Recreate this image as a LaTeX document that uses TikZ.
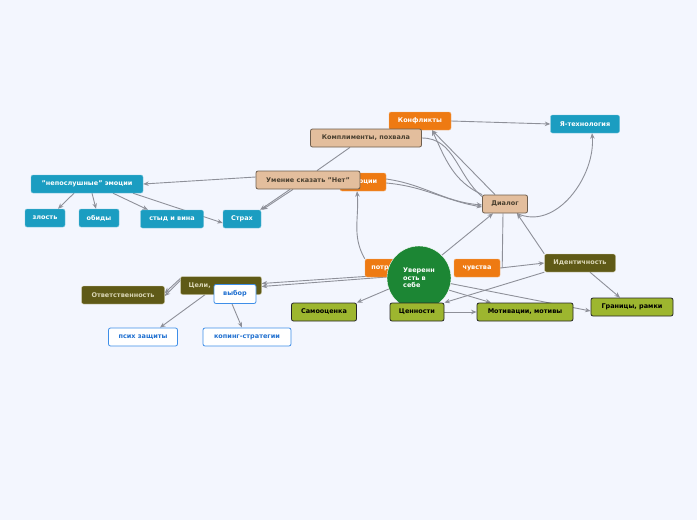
\documentclass[tikz,border=0pt]{standalone}
\usepackage{fontspec}
\setmainfont{DejaVu Sans}
\usetikzlibrary{arrows.meta}
\definecolor{bgc}{HTML}{F3F6FE}
\definecolor{tealc}{HTML}{1B9DC1}
\definecolor{orangec}{HTML}{EE7A12}
\definecolor{tanc}{HTML}{E3BE9D}
\definecolor{tanline}{HTML}{6E5E4E}
\definecolor{tantext}{HTML}{4A4030}
\definecolor{greenc}{HTML}{1C8634}
\definecolor{olivec}{HTML}{5F5A17}
\definecolor{olivetext}{HTML}{DAD6B6}
\definecolor{limec}{HTML}{9DB62F}
\definecolor{bluec}{HTML}{3E8EE8}
\definecolor{bluetext}{HTML}{1E6FD0}
\definecolor{linec}{HTML}{8E9099}
\pgfdeclarelayer{background}
\pgfdeclarelayer{edges}
\pgfsetlayers{background,edges,main}
\begin{document}
\begin{tikzpicture}[x=1pt, y=-1pt, font=\bfseries\fontsize{6.5}{7.6}\selectfont,
  box/.style = {rounded corners=2pt, minimum height=18pt, inner xsep=4pt, inner ysep=0pt},
  tealbox/.style = {box, fill=tealc, draw=tealc!60!white, text=white},
  orangebox/.style = {box, fill=orangec, draw=orangec!60!white, text=white},
  tanbox/.style = {box, fill=tanc, draw=tanline, thick, text=tantext},
  olivebox/.style = {box, fill=olivec, draw=olivetext, text=olivetext},
  limebox/.style = {box, fill=limec, draw=black!85, thick, text=black},
  whitebox/.style = {box, fill=white, draw=bluec, thick, text=bluetext},
  link/.style = {draw=linec, line width=0.9pt, -{Stealth[length=5.5pt,width=4.5pt]}},
  plain/.style = {draw=linec, line width=0.9pt}]
\useasboundingbox (0,0) rectangle (697,520);
\begin{pgfonlayer}{background}
  \fill[bgc] (0,0) rectangle (697,520);
\end{pgfonlayer}

\node[orangebox, minimum width=62pt] (konf) at (420,121) {Конфликты};
\node[tealbox, minimum width=69pt] (yatech) at (585,124) {Я-технология};
\node[tanbox, minimum width=111pt] (kompl) at (366,138) {Комплименты, похвала};
\node[orangebox, minimum width=46pt] (emo) at (363,182) {Эмоции};
\node[tanbox, minimum width=104pt] (umenie) at (308,180) {Умение сказать "Нет"};
\node[tealbox, minimum width=112pt] (neposl) at (87,184) {"непослушные" эмоции};
\node[tanbox, minimum width=45pt] (dialog) at (505,204) {Диалог};
\node[tealbox, minimum width=40pt] (zlost) at (45,218) {злость};
\node[tealbox, minimum width=40pt] (obidy) at (99,218) {обиды};
\node[tealbox, minimum width=63pt] (styd) at (172,219) {стыд и вина};
\node[tealbox, minimum width=38pt] (strah) at (242,219) {Страх};
\node[orangebox, minimum width=60pt] (potr) at (395,268) {потребности};
\node[orangebox, minimum width=46pt] (chuv) at (477,268) {чувства};
\node[circle, fill=greenc, draw=white, minimum size=64pt, inner sep=0pt,
  text=white, align=left] (uver) at (419,278) {Уверенн\\ость в\\себе};
\node[olivebox, minimum width=71pt] (ident) at (580,263) {Идентичность};
\node[olivebox, minimum width=81pt, text width=65pt, inner xsep=8pt, align=left] (celi) at (221,285.5) {Цели,};
\node[olivebox, minimum width=83pt] (otv) at (123,295) {Ответственность};
\node[whitebox, minimum width=42pt, minimum height=19pt] (vybor) at (235,294) {выбор};
\node[limebox, minimum width=65pt] (samo) at (324,312) {Самооценка};
\node[limebox, minimum width=54pt] (cenn) at (417,312) {Ценности};
\node[limebox, minimum width=96pt] (motiv) at (525,312) {Мотивации, мотивы};
\node[limebox, minimum width=82pt] (granicy) at (632,307) {Границы, рамки};
\node[whitebox, minimum width=69pt] (psih) at (143,337) {псих защиты};
\node[whitebox, minimum width=88pt] (koping) at (247,337) {копинг-стратегии};

\begin{pgfonlayer}{edges}
% upper part
\draw[link] (konf.east) -- (yatech.west);
\draw[link] ([xshift=-10pt]dialog.north) -- ([xshift=12pt]konf.south);
\draw[link] (dialog.north west) to[out=155,in=-65] ([xshift=12pt]konf.south);
\draw[plain] (kompl.east) to[out=0,in=140] ([yshift=-2pt]dialog.north west);
\draw[link] ([yshift=-1pt]emo.east) to[out=-5,in=170] ([yshift=-3pt]dialog.west);
\draw[link] ([yshift=3pt]emo.east) to[out=-8,in=175] ([yshift=-1pt]dialog.west);
\draw[link] ([xshift=12pt]dialog.south) to[out=-25,in=-85] ([xshift=7pt]yatech.south);
\draw[link] (ident.north west) -- ([xshift=12pt]dialog.south);
\draw[link] (uver.north east) -- ([xshift=-12pt]dialog.south);
\draw[plain] ([xshift=-2pt]dialog.south) -- ([xshift=2pt]chuv.east);
\draw[plain] (kompl.south) ++(-16pt,0) coordinate (komplfoot);
\draw[plain] (komplfoot) -- ([xshift=9pt]umenie.north);
\draw[link] ([yshift=3pt]umenie.west) -- (neposl.east);
\draw[link] ([xshift=-18pt]umenie.south) -- ([xshift=-1pt]strah.north east);
\draw[link] ([xshift=-15pt]umenie.south) -- ([xshift=1pt]strah.north east);
\draw[link] (potr.north west) to[out=120,in=-85] ([xshift=-6pt]emo.south);
% emotions
\draw[link] ([xshift=-13pt]neposl.south) -- ([xshift=13pt]zlost.north);
\draw[link] ([xshift=5pt]neposl.south) -- ([xshift=-3pt]obidy.north);
\draw[link] ([xshift=26pt]neposl.south) -- ([xshift=-24pt]styd.north);
\draw[link] ([xshift=46pt]neposl.south) -- ([yshift=-4pt]strah.west);
% lower part
\draw[link] (chuv.east) -- (ident.west);
\draw[link] (ident.south west) -- (cenn.north east);
\draw[link] ([xshift=10pt]ident.south) -- ([xshift=-12pt]granicy.north);
\draw[link] (uver.-10) -- ([yshift=-4pt]granicy.west);
\draw[link] (uver.-22) -- ([xshift=-34pt]motiv.north);
\draw[link] (cenn.east) -- (motiv.west);
\draw[link] (uver.200) -- (samo.north east);
\draw[link] ([yshift=1pt]uver.west) -- ([yshift=-1pt]celi.east);
\draw[link] ([yshift=3pt]uver.west) -- ([yshift=2pt]celi.east);
\draw[link] ([yshift=5pt]celi.west) -- ([yshift=-1pt]otv.east);
\draw[link] ([yshift=7pt]celi.west) -- ([yshift=2pt]otv.east);
\draw[link] ([xshift=-3pt]vybor.south) -- ([xshift=-5pt]koping.north);
\draw[link] ([xshift=-16pt]celi.south) -- ([xshift=17pt]psih.north);
\end{pgfonlayer}
\end{tikzpicture}
\end{document}
